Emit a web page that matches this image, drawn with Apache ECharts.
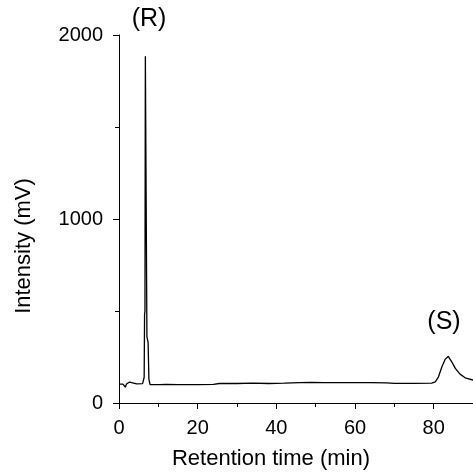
<!DOCTYPE html>
<html>
<head>
<meta charset="utf-8">
<script src="https://cdn.jsdelivr.net/npm/echarts@6/dist/echarts.min.js"></script>
<style>html,body{margin:0;padding:0;background:#fff}#c{width:473px;height:472px}</style>
</head>
<body>
<div id="c"></div>
<script>
const times = [0, 1.0, 1.4, 1.6, 1.9, 2.4, 2.7, 3.0, 4.5, 6.0, 6.4, 6.5, 6.6, 6.7, 7.0, 7.1, 7.4, 7.6, 7.9, 8.4, 9.6, 10.0, 10.4, 12, 15, 20, 24, 25.5, 30, 34, 38, 42, 46, 49, 52, 58, 64, 68, 70, 75, 79.5, 80.4, 81.2, 82.1, 82.9, 83.7, 84.6, 85.5, 86.7, 88, 90];
const intensity = [103, 103, 104, 86, 103, 104, 114, 104, 104, 105, 140, 480, 500, 1885, 1875, 360, 330, 130, 100, 100, 100, 110, 100, 101, 100, 100, 101, 106, 106, 108, 106, 108, 111, 112, 111, 111, 111, 109, 107, 107, 108, 115, 141, 197, 237, 253, 224, 188, 157, 137, 125];
const xMajorTicks = [0, 20, 40, 60, 80];
const xMinorTicks = [10, 30, 50, 70, 90];
const yMajorTicks = [0, 1000, 2000];
const yMinorTicks = [500, 1500];
const xName = 'Retention time (min)';
const yName = 'Intensity (mV)';
const peakLabels = ['(R)', '(S)'];

const font = 'Liberation Sans, Arial, sans-serif';
const chart = echarts.init(document.getElementById('c'), null, {renderer: 'canvas'});
const baseAxis = {min: 0, splitLine: {show: false}};
chart.setOption({
  animation: false,
  grid: {left: 119, right: 0, top: 35, bottom: 69, containLabel: false},
  xAxis: [
    Object.assign({}, baseAxis, {
      type: 'value', max: 90, position: 'bottom',
      axisLine: {show: true, lineStyle: {color: '#000', width: 1}},
      axisTick: {show: true, length: 6, lineStyle: {color: '#000'}, customValues: xMajorTicks},
      axisLabel: {show: true, customValues: xMajorTicks, margin: 15, fontSize: 20, color: '#000', fontFamily: font,
        formatter: v => String(v)}
    }),
    Object.assign({}, baseAxis, {
      type: 'value', max: 90, position: 'bottom',
      axisLine: {show: false},
      axisTick: {show: true, length: 4, lineStyle: {color: '#000'}, customValues: xMinorTicks},
      axisLabel: {show: false}
    })
  ],
  yAxis: [
    Object.assign({}, baseAxis, {
      type: 'value', max: 2000, position: 'left',
      axisLine: {show: true, lineStyle: {color: '#000', width: 1}},
      axisTick: {show: true, length: 6, lineStyle: {color: '#000'}, customValues: yMajorTicks},
      axisLabel: {show: true, customValues: yMajorTicks, margin: 16, fontSize: 20, color: '#000', fontFamily: font,
        formatter: v => String(v)}
    }),
    Object.assign({}, baseAxis, {
      type: 'value', max: 2000, position: 'left',
      axisLine: {show: false},
      axisTick: {show: true, length: 4, lineStyle: {color: '#000'}, customValues: yMinorTicks},
      axisLabel: {show: false}
    })
  ],
  graphic: [
    {type: 'text', x: 271, y: 459, style: {text: xName, fontSize: 22, fontFamily: font, fill: '#000', textAlign: 'center', textVerticalAlign: 'middle'}},
    {type: 'text', x: 24, y: 246, rotation: Math.PI / 2, style: {text: yName, fontSize: 22, fontFamily: font, fill: '#000', textAlign: 'center', textVerticalAlign: 'middle'}},
    {type: 'text', x: 149, y: 19, style: {text: peakLabels[0], fontSize: 25, fontFamily: font, fill: '#000', textAlign: 'center', textVerticalAlign: 'middle'}},
    {type: 'text', x: 444, y: 322, style: {text: peakLabels[1], fontSize: 25, fontFamily: font, fill: '#000', textAlign: 'center', textVerticalAlign: 'middle'}}
  ],
  series: [{
    type: 'line',
    xAxisIndex: 0, yAxisIndex: 0,
    data: times.map((t, i) => [t, intensity[i]]),
    showSymbol: false,
    symbol: 'none',
    lineStyle: {color: '#000', width: 1.3},
    clip: false
  }]
});
</script>
</body>
</html>
